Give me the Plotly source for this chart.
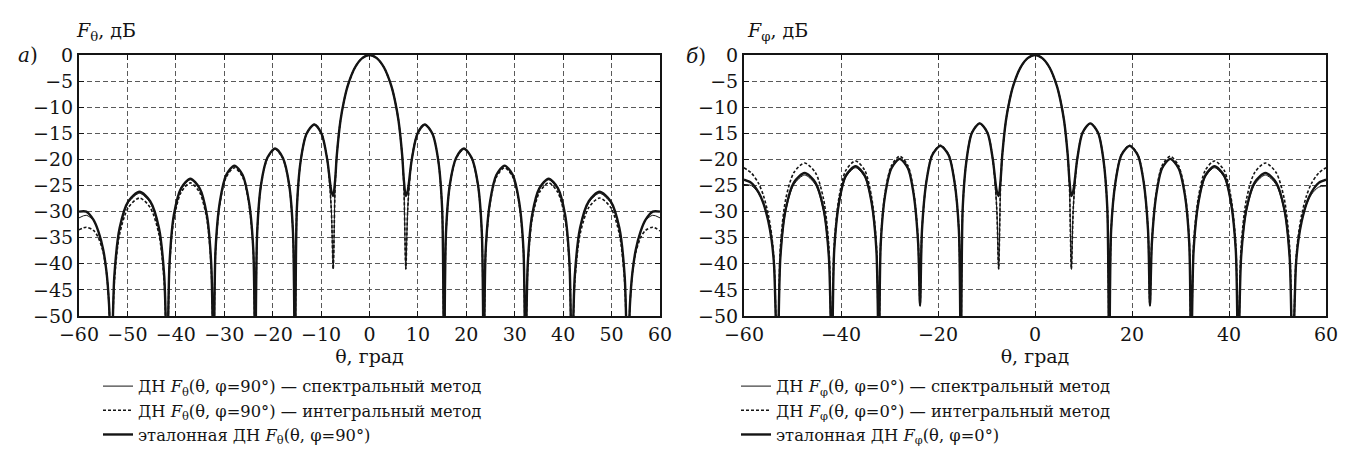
import plotly.graph_objects as go

# ---------------- panel (а): F_theta, phi = 90 deg ----------------
theta_a = [-60, -58.5, -57, -56, -55, -54.3, -53.8, -53.3,
           -52.7, -51.6, -49.8, -47.5, -45.3, -43.5, -42.4, -41.8,
           -41.3, -40.4, -38.9, -37.0, -35.1, -33.6, -32.7, -32.2,
           -31.8, -30.9, -29.6, -27.9, -26.2, -24.9, -24.0, -23.6,
           -23.2, -22.4, -21.1, -19.5, -17.9, -16.6, -15.8, -15.4,
           -15.0, -14.2, -13.0, -11.4, -9.9, -8.7, -7.9, -7.5,
           -7.1, -6.75, -6.0, -5.25, -4.5, -3.0, -1.5, 0, 1.5, 3.0, 4.5, 5.25, 6.0, 6.75, 7.1, 7.5,
           7.9, 8.7, 9.9, 11.4, 13.0, 14.2, 15.0, 15.4,
           15.8, 16.6, 17.9, 19.5, 21.1, 22.4, 23.2, 23.6,
           24.0, 24.9, 26.2, 27.9, 29.6, 30.9, 31.8, 32.2,
           32.7, 33.6, 35.1, 37.0, 38.9, 40.4, 41.3, 41.8,
           42.4, 43.5, 45.3, 47.5, 49.8, 51.6, 52.7, 53.3,
           53.8, 54.3, 55, 56, 57, 58.5, 60]

ref_a = [-30.0, -30.0, -31.6, -33.8, -37.3, -41.7, -47.7, -60,
         -42.3, -33.1, -28.0, -26.2, -28.0, -33.1, -42.3, -60,
         -39.8, -30.6, -25.5, -23.7, -25.5, -30.6, -39.8, -60,
         -37.3, -28.1, -23.0, -21.2, -23.0, -28.1, -37.3, -60,
         -34.0, -24.8, -19.7, -17.9, -19.7, -24.8, -34.0, -60,
         -29.4, -20.2, -15.1, -13.3, -15.1, -20.2, -26.0, -27.0,
         -24.0, -19.2, -12.6, -8.7, -5.9, -2.4, -0.6, 0, -0.6, -2.4, -5.9, -8.7, -12.6, -19.2, -24.0, -27.0,
         -26.0, -20.2, -15.1, -13.3, -15.1, -20.2, -29.4, -60,
         -34.0, -24.8, -19.7, -17.9, -19.7, -24.8, -34.0, -60,
         -37.3, -28.1, -23.0, -21.2, -23.0, -28.1, -37.3, -60,
         -39.8, -30.6, -25.5, -23.7, -25.5, -30.6, -39.8, -60,
         -42.3, -33.1, -28.0, -26.2, -28.0, -33.1, -42.3, -60,
         -47.7, -41.7, -37.3, -33.8, -31.6, -30.0, -30.0]

spec_a = [-31.2, -30.7, -31.7, -33.8, -37.3, -41.7, -47.7, -60,
          -42.6, -33.4, -28.3, -26.5, -28.3, -33.4, -42.6, -60,
          -40.0, -30.8, -25.7, -23.9, -25.7, -30.8, -40.0, -60,
          -37.4, -28.2, -23.1, -21.3, -23.1, -28.2, -37.4, -60,
          -34.0, -24.8, -19.7, -17.9, -19.7, -24.8, -34.0, -60,
          -29.4, -20.2, -15.1, -13.3, -15.1, -20.2, -29.4, -41.0,
          -25.0, -19.2, -12.6, -8.7, -5.9, -2.4, -0.6, 0, -0.6, -2.4, -5.9, -8.7, -12.6, -19.2, -25.0, -41.0,
          -29.4, -20.2, -15.1, -13.3, -15.1, -20.2, -29.4, -60,
          -34.0, -24.8, -19.7, -17.9, -19.7, -24.8, -34.0, -60,
          -37.4, -28.2, -23.1, -21.3, -23.1, -28.2, -37.4, -60,
          -40.0, -30.8, -25.7, -23.9, -25.7, -30.8, -40.0, -60,
          -42.6, -33.4, -28.3, -26.5, -28.3, -33.4, -42.6, -60,
          -47.7, -41.7, -37.3, -33.8, -31.7, -30.7, -31.2]

int_a = [-33.5, -33.0, -33.6, -35.0, -37.8, -41.9, -47.7, -60,
         -43.5, -34.3, -29.2, -27.4, -29.2, -34.3, -43.5, -60,
         -40.6, -31.4, -26.3, -24.5, -26.3, -31.4, -40.6, -60,
         -37.7, -28.5, -23.4, -21.6, -23.4, -28.5, -37.7, -60,
         -34.1, -24.9, -19.8, -18.0, -19.8, -24.9, -34.1, -60,
         -29.4, -20.2, -15.1, -13.3, -15.1, -20.2, -29.4, -41.0,
         -25.0, -19.2, -12.6, -8.7, -5.9, -2.4, -0.6, 0, -0.6, -2.4, -5.9, -8.7, -12.6, -19.2, -25.0, -41.0,
         -29.4, -20.2, -15.1, -13.3, -15.1, -20.2, -29.4, -60,
         -34.1, -24.9, -19.8, -18.0, -19.8, -24.9, -34.1, -60,
         -37.7, -28.5, -23.4, -21.6, -23.4, -28.5, -37.7, -60,
         -40.6, -31.4, -26.3, -24.5, -26.3, -31.4, -40.6, -60,
         -43.5, -34.3, -29.2, -27.4, -29.2, -34.3, -43.5, -60,
         -47.7, -41.9, -37.8, -35.0, -33.6, -33.0, -33.7]

# ---------------- panel (б): F_phi, phi = 0 deg ----------------
theta_b = [-60, -58.5, -57, -56, -55, -54.3, -53.8, -53.1,
           -52.5, -51.4, -49.7, -47.5, -45.3, -43.6, -42.5, -41.9,
           -41.4, -40.4, -39.0, -37.0, -35.1, -33.7, -32.7, -32.2,
           -31.8, -30.9, -29.6, -27.9, -26.2, -25.0, -24.1, -23.7,
           -23.3, -22.4, -21.2, -19.5, -17.8, -16.6, -15.7, -15.3,
           -14.9, -14.1, -13.0, -11.4, -9.8, -8.7, -7.9, -7.5,
           -7.1, -6.75, -6.0, -5.25, -4.5, -3.0, -1.5, 0, 1.5, 3.0, 4.5, 5.25, 6.0, 6.75, 7.1, 7.5,
           7.9, 8.7, 9.8, 11.4, 13.0, 14.1, 14.9, 15.3,
           15.7, 16.6, 17.8, 19.5, 21.2, 22.4, 23.3, 23.7,
           24.1, 25.0, 26.2, 27.9, 29.6, 30.9, 31.8, 32.2,
           32.7, 33.7, 35.1, 37.0, 39.0, 40.4, 41.4, 41.9,
           42.5, 43.6, 45.3, 47.5, 49.7, 51.4, 52.5, 53.1,
           53.8, 54.3, 55, 56, 57, 58.5, 60]

ref_b = [-23.9, -24.5, -26.3, -28.4, -31.8, -35.5, -40.3, -60,
         -38.7, -29.5, -24.4, -22.6, -24.4, -29.5, -38.7, -60,
         -37.4, -28.2, -23.1, -21.3, -23.1, -28.2, -37.4, -60,
         -36.0, -26.8, -21.7, -19.9, -21.7, -26.8, -36.0, -48.0,
         -33.5, -24.3, -19.2, -17.4, -19.2, -24.3, -33.5, -60,
         -29.2, -20.0, -14.9, -13.1, -14.9, -20.0, -26.0, -27.0,
         -24.0, -19.2, -12.6, -8.7, -5.9, -2.4, -0.6, 0, -0.6, -2.4, -5.9, -8.7, -12.6, -19.2, -24.0, -27.0,
         -26.0, -20.0, -14.9, -13.1, -14.9, -20.0, -29.2, -60,
         -33.5, -24.3, -19.2, -17.4, -19.2, -24.3, -33.5, -48.0,
         -36.0, -26.8, -21.7, -19.9, -21.7, -26.8, -36.0, -60,
         -37.4, -28.2, -23.1, -21.3, -23.1, -28.2, -37.4, -60,
         -38.7, -29.5, -24.4, -22.6, -24.4, -29.5, -38.7, -60,
         -40.3, -35.5, -31.8, -28.4, -26.3, -24.5, -23.9]

spec_b = [-24.8, -25.0, -26.5, -28.5, -31.8, -35.5, -40.3, -60,
          -39.1, -29.9, -24.8, -23.0, -24.8, -29.9, -39.1, -60,
          -37.7, -28.5, -23.4, -21.6, -23.4, -28.5, -37.7, -60,
          -36.1, -26.9, -21.8, -20.0, -21.8, -26.9, -36.1, -48.0,
          -33.5, -24.3, -19.2, -17.4, -19.2, -24.3, -33.5, -60,
          -29.2, -20.0, -14.9, -13.1, -14.9, -20.0, -29.2, -41.0,
          -25.0, -19.2, -12.6, -8.7, -5.9, -2.4, -0.6, 0, -0.6, -2.4, -5.9, -8.7, -12.6, -19.2, -25.0, -41.0,
          -29.2, -20.0, -14.9, -13.1, -14.9, -20.0, -29.2, -60,
          -33.5, -24.3, -19.2, -17.4, -19.2, -24.3, -33.5, -48.0,
          -36.1, -26.9, -21.8, -20.0, -21.8, -26.9, -36.1, -60,
          -37.7, -28.5, -23.4, -21.6, -23.4, -28.5, -37.7, -60,
          -39.1, -29.9, -24.8, -23.0, -24.8, -29.9, -39.1, -60,
          -40.3, -35.5, -31.8, -28.6, -26.7, -25.3, -25.1]

int_b = [-21.6, -22.6, -24.6, -26.9, -30.5, -34.5, -39.5, -60,
         -36.8, -27.6, -22.5, -20.7, -22.5, -27.6, -36.8, -60,
         -36.4, -27.2, -22.1, -20.3, -22.1, -27.2, -36.4, -60,
         -35.5, -26.3, -21.2, -19.4, -21.2, -26.3, -35.5, -48.0,
         -33.4, -24.2, -19.1, -17.3, -19.1, -24.2, -33.4, -60,
         -29.2, -20.0, -14.9, -13.1, -14.9, -20.0, -29.2, -41.0,
         -25.0, -19.2, -12.6, -8.7, -5.9, -2.4, -0.6, 0, -0.6, -2.4, -5.9, -8.7, -12.6, -19.2, -25.0, -41.0,
         -29.2, -20.0, -14.9, -13.1, -14.9, -20.0, -29.2, -60,
         -33.4, -24.2, -19.1, -17.3, -19.1, -24.2, -33.4, -48.0,
         -35.5, -26.3, -21.2, -19.4, -21.2, -26.3, -35.5, -60,
         -36.4, -27.2, -22.1, -20.3, -22.1, -27.2, -36.4, -60,
         -36.8, -27.6, -22.5, -20.7, -22.5, -27.6, -36.8, -60,
         -39.5, -34.5, -30.5, -26.9, -24.6, -22.6, -21.6]

names_a = ["ДН <i>F</i><sub>θ</sub>(θ, φ=90°) — спектральный метод",
           "ДН <i>F</i><sub>θ</sub>(θ, φ=90°) — интегральный метод",
           "эталонная ДН <i>F</i><sub>θ</sub>(θ, φ=90°)"]
names_b = ["ДН <i>F</i><sub>φ</sub>(θ, φ=0°) — спектральный метод",
           "ДН <i>F</i><sub>φ</sub>(θ, φ=0°) — интегральный метод",
           "эталонная ДН <i>F</i><sub>φ</sub>(θ, φ=0°)"]

FONT = "DejaVu Serif, Liberation Serif, Noto Serif, serif"
INK = "#141414"

W, H = 1348, 466
ML, MR, MT, MB = 71, 30, 47, 158
PW = W - ML - MR
PH = H - MT - MB


def px_x(p):
    return (p - ML) / PW


def px_y(p):
    return (H - MB - p) / PH


fig = go.Figure()

styles = [dict(width=1.0, dash="solid"),
          dict(width=1.6, dash="3px,2px"),
          dict(width=2.4, dash="solid")]

for (xs, ys_list, names, xa, ya, lg) in [
        (theta_a, [spec_a, int_a, ref_a], names_a, "x", "y", "legend"),
        (theta_b, [spec_b, int_b, ref_b], names_b, "x2", "y2", "legend2")]:
    for ys, nm, st in zip(ys_list, names, styles):
        fig.add_trace(go.Scatter(
            x=xs, y=ys, mode="lines", name=nm,
            line=dict(color=INK, width=st["width"], dash=st["dash"],
                      shape="spline", smoothing=0.8),
            xaxis=xa, yaxis=ya, legend=lg, showlegend=True))

gap_lo = px_x(652)
gap_hi = px_x(736)

axis_common = dict(
    showline=True, linecolor=INK, linewidth=2, mirror="ticks",
    ticks="inside", ticklen=5, tickwidth=1.2, tickcolor=INK,
    showgrid=True, gridcolor="#5a5a5a", gridwidth=1, griddash="5px,3px",
    zeroline=False,
    tickfont=dict(family=FONT, size=19, color=INK),
)

fig.update_layout(
    width=W, height=H,
    margin=dict(l=ML, r=MR, t=MT, b=MB),
    paper_bgcolor="white", plot_bgcolor="white",
    font=dict(family=FONT, color=INK),
    xaxis=dict(domain=[0, gap_lo], range=[-60, 60], dtick=10, tick0=0,
               title=dict(text="θ, град", font=dict(family=FONT, size=19), standoff=4),
               anchor="y", **axis_common),
    yaxis=dict(domain=[0, 1], range=[-50, 0], dtick=5, tick0=0, anchor="x",
               **axis_common),
    xaxis2=dict(domain=[gap_hi, 1], range=[-60, 60], dtick=20, tick0=0,
                title=dict(text="θ, град", font=dict(family=FONT, size=19), standoff=4),
                anchor="y2", **axis_common),
    yaxis2=dict(domain=[0, 1], range=[-50, 0], dtick=5, tick0=0, anchor="x2",
                **axis_common),
    legend=dict(x=px_x(90), y=px_y(361), xanchor="left", yanchor="top",
                bgcolor="rgba(0,0,0,0)", font=dict(family=FONT, size=16.3, color=INK),
                traceorder="normal", tracegroupgap=0),
    legend2=dict(x=px_x(728), y=px_y(361), xanchor="left", yanchor="top",
                 bgcolor="rgba(0,0,0,0)", font=dict(family=FONT, size=16.3, color=INK),
                 traceorder="normal", tracegroupgap=0),
    annotations=[
        dict(text="<i>F</i><sub>θ</sub>, дБ", x=px_x(66), y=px_y(24),
             xref="paper", yref="paper", xanchor="left", yanchor="middle",
             showarrow=False, font=dict(family=FONT, size=19, color=INK)),
        dict(text="<i>F</i><sub>φ</sub>, дБ", x=px_x(737), y=px_y(24),
             xref="paper", yref="paper", xanchor="left", yanchor="middle",
             showarrow=False, font=dict(family=FONT, size=19, color=INK)),
        dict(text="<i>а</i>)", x=px_x(8), y=px_y(47),
             xref="paper", yref="paper", xanchor="left", yanchor="middle",
             showarrow=False, font=dict(family=FONT, size=20, color=INK)),
        dict(text="<i>б</i>)", x=px_x(676), y=px_y(48),
             xref="paper", yref="paper", xanchor="left", yanchor="middle",
             showarrow=False, font=dict(family=FONT, size=20, color=INK)),
    ],
)

fig.write_html("out.html")
